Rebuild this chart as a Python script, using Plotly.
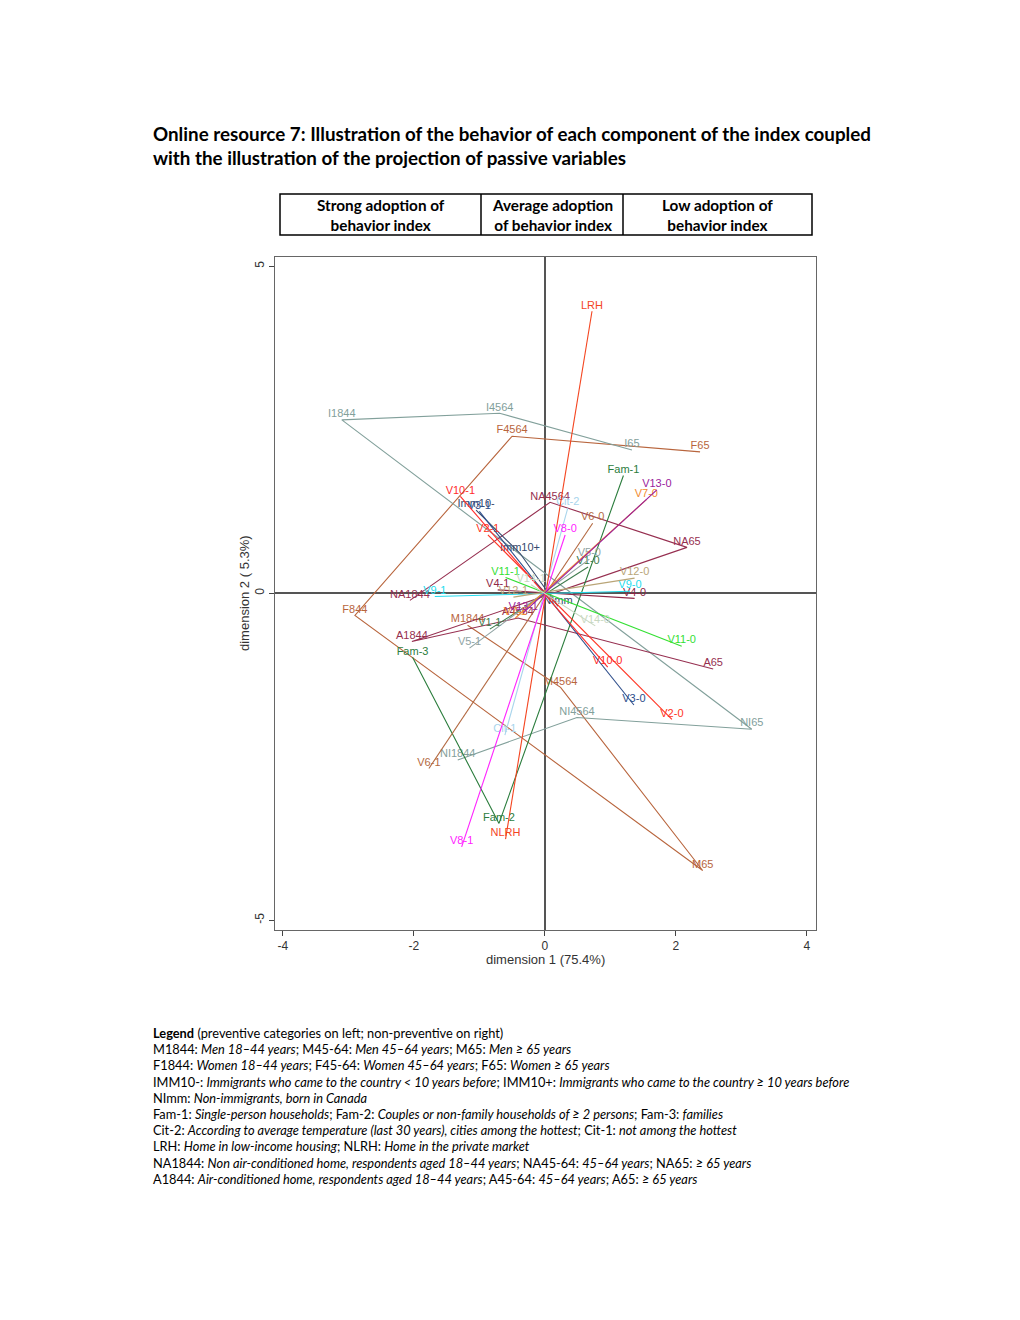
import plotly.graph_objects as go

W, H = 1020, 1320
OFF = 8  # page body margin of the browser

# ---------------- data ----------------
active_vars = ["V1", "V2", "V3", "V4", "V5", "V6", "V7", "V8", "V9", "V10", "V11", "V12", "V13", "V14"]
cat1_x = [-0.84, -0.87, -1.00, -0.72, -1.15, -1.77, -0.45, -1.27, -1.68, -1.29, -0.60, -0.48, -0.33, -0.21]
cat1_y = [-0.55, 0.89, 1.25, 0.05, -0.84, -2.68, -0.38, -3.88, -0.05, 1.48, 0.24, -0.06, -0.30, 0.13]
cat0_x = [0.66, 1.94, 1.36, 1.37, 0.68, 0.73, 1.55, 0.31, 1.30, 0.96, 2.09, 1.37, 1.71, 0.77]
cat0_y = [0.40, -1.93, -1.71, -0.08, 0.52, 1.07, 1.43, 0.89, 0.03, -1.13, -0.81, 0.23, 1.58, -0.50]
active_colors = ["#3d7a4c", "#ff3322", "#2d4d8a", "#8e2645", "#8fa3a3", "#b36a42", "#f28a2e",
                 "#ff22ff", "#22dcee", "#ff2b2b", "#33e033", "#b9a577", "#9a1c9c", "#c9d8c2"]

sexage_labels = ["M1844", "M4564", "M65", "F844", "F4564", "F65"]
sexage_x = [-1.18, 0.24, 2.41, -2.90, -0.50, 2.37]
sexage_y = [-0.49, -1.44, -4.24, -0.34, 2.40, 2.16]

immage_labels = ["NI1844", "NI4564", "NI65", "I1844", "I4564", "I65"]
immage_x = [-1.33, 0.49, 3.16, -3.10, -0.69, 1.33]
immage_y = [-2.55, -1.90, -2.08, 2.65, 2.75, 2.19]

acage_labels = ["NA1844", "NA4564", "NA65", "A1844", "A4564", "A65"]
acage_x = [-2.06, 0.08, 2.17, -2.03, -0.41, 2.57]
acage_y = [-0.11, 1.39, 0.70, -0.74, -0.38, -1.16]

fam_labels = ["Fam-1", "Fam-2", "Fam-3"]
fam_x = [1.20, -0.70, -2.02]
fam_y = [1.80, -3.52, -0.98]

lrh_labels = ["LRH", "NLRH"]
lrh_x = [0.72, -0.60]
lrh_y = [4.31, -3.76]

cit_labels = ["Cit-2", "Cit-1"]
cit_x = [0.35, -0.61]
cit_y = [1.30, -2.17]

imm_labels = ["Imm10-", "Imm10+", "NImm"]
imm_x = [-1.05, -0.38, 0.20]
imm_y = [1.27, 0.61, -0.20]

passive_groups = [
    (sexage_labels, sexage_x, sexage_y, "#b8653d"),
    (immage_labels, immage_x, immage_y, "#82a09b"),
    (acage_labels, acage_x, acage_y, "#962f50"),
    (fam_labels, fam_x, fam_y, "#2b7d3d"),
    (cit_labels, cit_x, cit_y, "#a9d5ec"),
    (imm_labels, imm_x, imm_y, "#35496d"),
    (lrh_labels, lrh_x, lrh_y, "#f4441f"),
]

x_ticks = [-4, -2, 0, 2, 4]
y_ticks = [-5, 0, 5]

title_lines = [
    "Online resource 7: Illustration of the behavior of each component of the index coupled",
    "with the illustration of the projection of passive variables",
]
header_cells = [
    "Strong adoption of<br>behavior index",
    "Average adoption<br>of behavior index",
    "Low adoption of<br>behavior index",
]
legend_lines = [
    "<b>Legend</b> (preventive categories on left; non-preventive on right)",
    "M1844: <i>Men 18–44 years</i>; M45-64: <i>Men 45–64 years</i>; M65: <i>Men ≥ 65 years</i>",
    "F1844: <i>Women 18–44 years</i>; F45-64: <i>Women 45–64 years</i>; F65: <i>Women ≥ 65 years</i>",
    "IMM10-: <i>Immigrants who came to the country &lt; 10 years before</i>; IMM10+: <i>Immigrants who came to the country ≥ 10 years before</i>",
    "NImm: <i>Non-immigrants, born in Canada</i>",
    "Fam-1: <i>Single-person households</i>; Fam-2: <i>Couples or non-family households of ≥ 2 persons</i>; Fam-3: <i>families</i>",
    "Cit-2: <i>According to average temperature (last 30 years), cities among the hottest</i>; Cit-1: <i>not among the hottest</i>",
    "LRH: <i>Home in low-income housing</i>; NLRH: <i>Home in the private market</i>",
    "NA1844: <i>Non air-conditioned home, respondents aged 18–44 years</i>; NA45-64: <i>45–64 years</i>; NA65: <i>≥ 65 years</i>",
    "A1844: <i>Air-conditioned home, respondents aged 18–44 years</i>; A45-64: <i>45–64 years</i>; A65: <i>≥ 65 years</i>",
]

# ---------------- figure ----------------
LBL_FONT = "Liberation Sans, Arial, sans-serif"
TXT_FONT = "Lato, Open Sans, sans-serif"


def px(p):
    return (p - OFF) / W


def py(p):
    return 1 - (p - OFF) / H


fig = go.Figure()

for lbls, xs, ys, col in passive_groups:
    fig.add_trace(go.Scatter(
        x=xs, y=ys, mode="lines+text", text=lbls, textposition="top center",
        line=dict(color=col, width=1.1),
        textfont=dict(family=LBL_FONT, size=11, color=col),
        hoverinfo="skip", showlegend=False, cliponaxis=False))

for name, x1, y1, x0, y0, col in zip(active_vars, cat1_x, cat1_y, cat0_x, cat0_y, active_colors):
    fig.add_trace(go.Scatter(
        x=[x1, x0], y=[y1, y0], mode="lines+text",
        text=[name + "-1", name + "-0"], textposition="top center",
        line=dict(color=col, width=1.1),
        textfont=dict(family=LBL_FONT, size=11, color=col),
        hoverinfo="skip", showlegend=False, cliponaxis=False))

x_dom = [px(275), px(816)]
y_dom = [py(930), py(257)]

fig.update_layout(
    width=W, height=H, autosize=False,
    margin=dict(l=0, r=0, t=0, b=0),
    paper_bgcolor="white", plot_bgcolor="white",
    xaxis=dict(domain=x_dom, range=[-4.12, 4.14], tickvals=x_ticks,
               ticktext=[str(v) for v in x_ticks], ticks="outside", ticklen=5,
               tickcolor="#444", showline=True, mirror=True, linecolor="#666", linewidth=1,
               showgrid=False, zeroline=True, zerolinecolor="#555", zerolinewidth=1.5,
               tickfont=dict(family=LBL_FONT, size=12, color="#333"), automargin=False),
    yaxis=dict(domain=y_dom, range=[-5.15, 5.14], tickvals=y_ticks,
               ticktext=[str(v) for v in y_ticks], ticks="outside", ticklen=5, tickangle=-90,
               tickcolor="#444", showline=True, mirror=True, linecolor="#666", linewidth=1,
               showgrid=False, zeroline=True, zerolinecolor="#555", zerolinewidth=1.5,
               tickfont=dict(family=LBL_FONT, size=12, color="#333"), automargin=False),
)

ann = []
ann.append(dict(x=px(545), y=py(959), xref="paper", yref="paper", text="dimension 1 (75.4%)",
                showarrow=False, xanchor="center", yanchor="middle",
                font=dict(family=LBL_FONT, size=13, color="#333")))
ann.append(dict(x=px(245), y=py(593), xref="paper", yref="paper", text="dimension 2 ( 5.3%)",
                showarrow=False, xanchor="center", yanchor="middle", textangle=-90,
                font=dict(family=LBL_FONT, size=13, color="#333")))
for i, t in enumerate(title_lines):
    ann.append(dict(x=px(151), y=py(133 + 24 * i), xref="paper", yref="paper", text="<b>" + t + "</b>",
                    showarrow=False, xanchor="left", yanchor="middle",
                    font=dict(family=TXT_FONT, size=18.8, color="black")))
cell_edges = [280, 481, 623, 812]
for i, t in enumerate(header_cells):
    cx = (cell_edges[i] + cell_edges[i + 1]) / 2
    ann.append(dict(x=px(cx), y=py(215), xref="paper", yref="paper", text="<b>" + t + "</b>",
                    showarrow=False, xanchor="center", yanchor="middle", align="center",
                    font=dict(family=TXT_FONT, size=15.3, color="black")))
for i, t in enumerate(legend_lines):
    ann.append(dict(x=px(151), y=py(1033 + 16.2 * i), xref="paper", yref="paper", text=t,
                    showarrow=False, xanchor="left", yanchor="middle",
                    font=dict(family=TXT_FONT, size=12.8, color="black")))
fig.update_layout(annotations=ann)

shapes = [dict(type="rect", xref="paper", yref="paper",
               x0=px(280), x1=px(812), y0=py(235), y1=py(194),
               line=dict(color="black", width=1.5))]
for xe in cell_edges[1:-1]:
    shapes.append(dict(type="line", xref="paper", yref="paper",
                       x0=px(xe), x1=px(xe), y0=py(235), y1=py(194),
                       line=dict(color="black", width=1.5)))
fig.update_layout(shapes=shapes)

fig.write_html("out.html")
